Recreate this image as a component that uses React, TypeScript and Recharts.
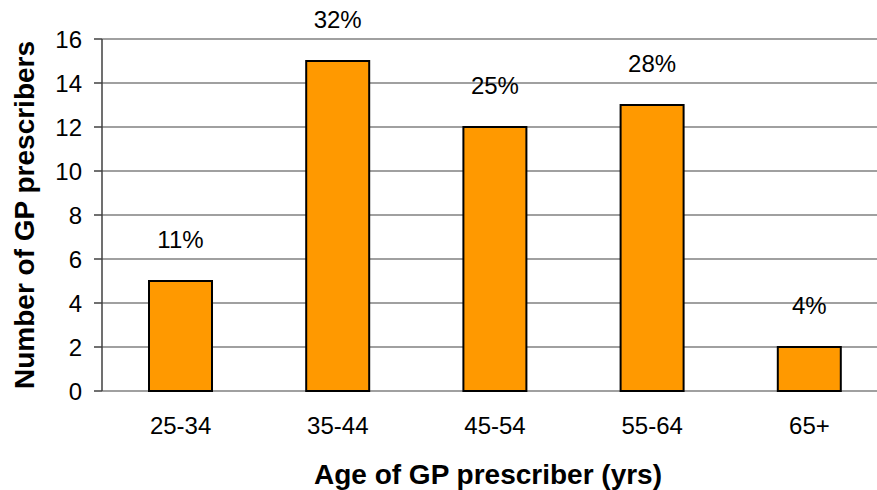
import React from "react";
import { BarChart, Bar, XAxis, YAxis, CartesianGrid, LabelList, Label } from "recharts";

const categories = ["25-34", "35-44", "45-54", "55-64", "65+"];
const prescribers = [5, 15, 12, 13, 2];
const percentLabels = ["11%", "32%", "25%", "28%", "4%"];
const yTicks = [0, 2, 4, 6, 8, 10, 12, 14, 16];
const bandEdges = [0, 1, 2, 3, 4, 5];

const data = categories.map((c, i) => ({
  age: c,
  value: prescribers[i],
  pct: percentLabels[i],
}));

const FONT = "'Liberation Sans', Arial, sans-serif";

const YTitle = (props: any) => {
  const vb = props.viewBox || { x: 0, y: 0, width: 0, height: 0 };
  const cx = vb.x + 24;
  const cy = vb.y + vb.height / 2;
  return (
    <text
      x={cx}
      y={cy}
      transform={`rotate(-90 ${cx} ${cy})`}
      textAnchor="middle"
      dominantBaseline="central"
      fontFamily={FONT}
      fontSize={28}
      fontWeight="bold"
      fill="#000"
    >
      Number of GP prescribers
    </text>
  );
};

export default function App() {
  return (
    <div
      style={{
        position: "absolute",
        left: 0,
        top: 0,
        width: 877,
        height: 490,
        overflow: "hidden",
        background: "#fff",
      }}
    >
      <BarChart
        width={900}
        height={490}
        data={data}
        margin={{ top: 39, right: 12, bottom: 0, left: 0 }}
        style={{ fontFamily: FONT }}
      >
        <CartesianGrid
          xAxisId="cat"
          vertical={false}
          stroke="#808080"
          strokeWidth={1.5}
        />
        <XAxis
          xAxisId="cat"
          dataKey="age"
          height={99}
          axisLine={false}
          tickLine={false}
          tickSize={8}
          tickMargin={18}
          tick={{ fill: "#000", fontSize: 24, fontFamily: FONT }}
          interval={0}
        >
          <Label
            value="Age of GP prescriber (yrs)"
            position="insideBottom"
            offset={6}
            dx={-7}
            style={{ fontSize: 28, fontWeight: "bold", fill: "#000", fontFamily: FONT }}
          />
        </XAxis>
        <XAxis
          xAxisId="grid"
          type="number"
          domain={[0, 5]}
          ticks={bandEdges}
          height={0}
          tickSize={8}
          tickFormatter={() => ""}
          stroke="#404040"
          strokeWidth={1.5}
          allowDataOverflow
        />
        <YAxis
          width={102}
          domain={[0, 16]}
          ticks={yTicks}
          tickSize={8}
          tickMargin={12}
          stroke="#404040"
          strokeWidth={1.5}
          tick={{ fill: "#000", fontSize: 24, fontFamily: FONT }}
        >
          <Label content={<YTitle />} />
        </YAxis>
        <Bar
          xAxisId="cat"
          dataKey="value"
          fill="#FF9900"
          stroke="#000"
          strokeWidth={2}
          barSize={63}
          isAnimationActive={false}
        >
          <LabelList
            dataKey="pct"
            position="top"
            offset={33}
            fill="#000"
            fontSize={24}
            fontFamily={FONT}
          />
        </Bar>
      </BarChart>
    </div>
  );
}
